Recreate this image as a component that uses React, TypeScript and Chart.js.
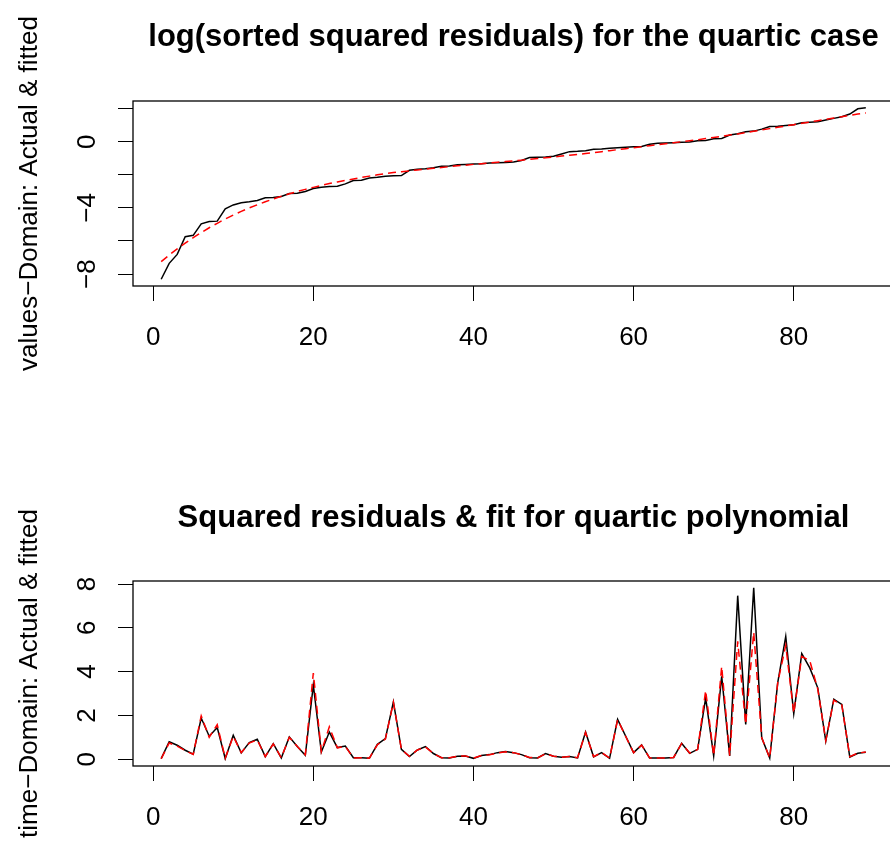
import React, { useEffect, useRef } from "react";
import { Chart, registerables } from "chart.js";

Chart.register(...registerables);

// ---------- data ----------
const idx: number[] = Array.from({ length: 89 }, (_, i) => i + 1);

const logActual: number[] = [
  -8.31, -7.35, -6.81, -5.74, -5.66, -4.96, -4.82, -4.80, -4.06, -3.82,
  -3.69, -3.63, -3.55, -3.39, -3.37, -3.31, -3.13, -3.11, -3.01, -2.83,
  -2.75, -2.71, -2.69, -2.55, -2.35, -2.33, -2.19, -2.15, -2.09, -2.06,
  -2.05, -1.73, -1.67, -1.63, -1.57, -1.49, -1.47, -1.39, -1.37, -1.35,
  -1.33, -1.29, -1.27, -1.25, -1.23, -1.14, -0.96, -0.94, -0.92, -0.88,
  -0.74, -0.60, -0.58, -0.54, -0.46, -0.44, -0.40, -0.36, -0.34, -0.31,
  -0.29, -0.16, -0.10, -0.08, -0.06, -0.04, -0.02, 0.06, 0.08, 0.18,
  0.20, 0.40, 0.48, 0.60, 0.64, 0.76, 0.92, 0.94, 0.98, 1.02,
  1.14, 1.18, 1.20, 1.31, 1.41, 1.51, 1.67, 1.99, 2.05,
];

const logFitted: number[] = [
  -7.25, -6.85, -6.48, -6.13, -5.80, -5.49, -5.20, -4.93, -4.67, -4.43,
  -4.21, -4.00, -3.81, -3.63, -3.46, -3.30, -3.15, -3.01, -2.88, -2.76,
  -2.64, -2.53, -2.43, -2.34, -2.25, -2.16, -2.08, -2.00, -1.93, -1.86,
  -1.81, -1.76, -1.71, -1.66, -1.61, -1.56, -1.51, -1.46, -1.42, -1.37,
  -1.33, -1.28, -1.24, -1.20, -1.16, -1.12, -1.07, -1.02, -0.97, -0.92,
  -0.87, -0.82, -0.77, -0.71, -0.66, -0.60, -0.54, -0.48, -0.42, -0.36,
  -0.30, -0.24, -0.18, -0.12, -0.06, 0.00, 0.06, 0.12, 0.19, 0.26,
  0.33, 0.40, 0.47, 0.55, 0.63, 0.71, 0.79, 0.87, 0.95, 1.03,
  1.11, 1.19, 1.27, 1.35, 1.43, 1.51, 1.59, 1.67, 1.74,
];

const sqActual: number[] = [
  0.03, 0.80, 0.64, 0.41, 0.23, 1.88, 1.05, 1.45, 0.03, 1.09,
  0.29, 0.76, 0.91, 0.12, 0.71, 0.06, 1.02, 0.58, 0.18, 3.39,
  0.33, 1.24, 0.53, 0.60, 0.07, 0.07, 0.04, 0.68, 0.94, 2.62,
  0.45, 0.12, 0.42, 0.58, 0.26, 0.07, 0.06, 0.14, 0.15, 0.04,
  0.17, 0.21, 0.30, 0.35, 0.30, 0.21, 0.07, 0.06, 0.26, 0.14,
  0.09, 0.12, 0.06, 1.24, 0.11, 0.30, 0.04, 1.82, 1.06, 0.30,
  0.65, 0.05, 0.05, 0.05, 0.08, 0.73, 0.27, 0.45, 2.80, 0.15,
  3.79, 0.15, 7.47, 1.59, 7.83, 0.98, 0.05, 3.50, 5.61, 2.08,
  4.82, 4.17, 3.26, 0.83, 2.74, 2.50, 0.10, 0.27, 0.32,
];

const sqFitted: number[] = [
  0.02, 0.74, 0.60, 0.40, 0.22, 1.98, 1.00, 1.58, 0.05, 1.05,
  0.30, 0.74, 0.88, 0.12, 0.70, 0.07, 1.00, 0.58, 0.20, 3.94,
  0.35, 1.48, 0.52, 0.58, 0.06, 0.07, 0.05, 0.66, 0.92, 2.60,
  0.45, 0.13, 0.42, 0.56, 0.26, 0.07, 0.07, 0.14, 0.15, 0.05,
  0.17, 0.20, 0.29, 0.34, 0.30, 0.21, 0.08, 0.06, 0.25, 0.14,
  0.09, 0.12, 0.07, 1.22, 0.12, 0.30, 0.05, 1.80, 1.05, 0.30,
  0.64, 0.06, 0.05, 0.06, 0.08, 0.72, 0.28, 0.44, 3.14, 0.16,
  4.24, 0.16, 5.38, 1.60, 5.80, 0.98, 0.06, 3.50, 5.20, 2.10,
  4.70, 4.50, 3.20, 0.85, 2.70, 2.48, 0.12, 0.28, 0.33,
];

const xTicks: number[] = [0, 20, 40, 60, 80];
const topYTicks: number[] = [-8, -6, -4, -2, 0, 2];
const topYLabels: string[] = ["\u22128", "", "\u22124", "", "0", ""];
const botYTicks: number[] = [0, 2, 4, 6, 8];
const botYLabels: string[] = ["0", "2", "4", "6", "8"];

const topTitle = "log(sorted squared residuals) for the quartic case";
const topYTitle = "values\u2212Domain: Actual & fitted";
const botTitle = "Squared residuals & fit for quartic polynomial";
const botYTitle = "time\u2212Domain: Actual & fitted";

// ---------- chart helpers ----------
const FONT = "'Liberation Sans', Arial, Helvetica, sans-serif";

const boxPlugin = {
  id: "rbox",
  afterDraw(chart: any) {
    const { ctx, chartArea: a } = chart;
    ctx.save();
    ctx.strokeStyle = "#000";
    ctx.lineWidth = 1.3;
    ctx.strokeRect(a.left, a.top, a.right - a.left, a.bottom - a.top);
    ctx.restore();
  },
};

interface Cfg {
  title: string;
  yTitle: string;
  actual: number[];
  fitted: number[];
  yMin: number;
  yMax: number;
  yTicks: number[];
  yLabels: string[];
  titlePadTop: number;
  titlePadBottom: number;
  xHeight: number;
  yTickPad: number;
}

function makeConfig(c: Cfg): any {
  const toPts = (arr: number[]) => idx.map((x, i) => ({ x, y: arr[i] }));
  return {
    type: "line",
    data: {
      datasets: [
        {
          label: "fitted",
          data: toPts(c.fitted),
          borderColor: "#FF0000",
          borderWidth: 1.5,
          borderDash: [8, 5],
          pointRadius: 0,
          tension: 0,
          fill: false,
          order: 0,
        },
        {
          label: "actual",
          data: toPts(c.actual),
          borderColor: "#000000",
          borderWidth: 1.5,
          pointRadius: 0,
          tension: 0,
          fill: false,
          order: 1,
        },
      ],
    },
    options: {
      responsive: false,
      animation: false,
      devicePixelRatio: 1,
      layout: { padding: { left: 0, right: 6, top: 0, bottom: 0 } },
      plugins: {
        legend: { display: false },
        tooltip: { enabled: false },
        title: {
          display: true,
          text: c.title,
          color: "#000",
          fullSize: false,
          font: { family: FONT, size: 31, weight: "bold", lineHeight: 1.2 },
          padding: { top: c.titlePadTop, bottom: c.titlePadBottom },
        },
      },
      scales: {
        x: {
          type: "linear",
          min: -2.52,
          max: 92.52,
          afterBuildTicks: (s: any) => {
            s.ticks = xTicks.map((v) => ({ value: v }));
          },
          afterFit: (s: any) => {
            s.height = c.xHeight;
          },
          ticks: {
            color: "#000",
            font: { family: FONT, size: 26 },
            padding: 21,
            maxRotation: 0,
            minRotation: 0,
            autoSkip: false,
            callback: (v: number) => String(v),
          },
          grid: {
            display: true,
            drawOnChartArea: false,
            drawTicks: true,
            tickLength: 15,
            color: "#000",
            lineWidth: 1,
          },
          border: { display: false },
        },
        y: {
          type: "linear",
          min: c.yMin,
          max: c.yMax,
          afterBuildTicks: (s: any) => {
            s.ticks = c.yTicks.map((v) => ({ value: v }));
          },
          afterFit: (s: any) => {
            s.width = 133;
          },
          ticks: {
            color: "#000",
            font: { family: FONT, size: 26 },
            padding: c.yTickPad,
            minRotation: 90,
            maxRotation: 90,
            crossAlign: "center",
            autoSkip: false,
            callback: (v: number) => {
              const k = c.yTicks.indexOf(v);
              return k >= 0 ? c.yLabels[k] : "";
            },
          },
          grid: {
            display: true,
            drawOnChartArea: false,
            drawTicks: true,
            tickLength: 15,
            color: "#000",
            lineWidth: 1,
          },
          border: { display: false },
          title: {
            display: true,
            text: c.yTitle,
            color: "#000",
            font: { family: FONT, size: 26, lineHeight: 1.2 },
            padding: { top: 14.4, bottom: 0 },
          },
        },
      },
    },
    plugins: [boxPlugin],
  };
}

function RChart({ cfg }: { cfg: Cfg }) {
  const ref = useRef<HTMLCanvasElement | null>(null);
  useEffect(() => {
    if (!ref.current) return;
    const chart = new Chart(ref.current, makeConfig(cfg));
    return () => chart.destroy();
  }, [cfg]);
  return (
    <canvas
      ref={ref}
      width={900}
      height={423}
      style={{ display: "block", width: 900, height: 423 }}
    />
  );
}

const topCfg: Cfg = {
  title: topTitle,
  yTitle: topYTitle,
  actual: logActual,
  fitted: logFitted,
  yMin: -8.72,
  yMax: 2.46,
  yTicks: topYTicks,
  yLabels: topYLabels,
  titlePadTop: 18.4,
  titlePadBottom: 45.4,
  xHeight: 137,
  yTickPad: 15,
};

const botCfg: Cfg = {
  title: botTitle,
  yTitle: botYTitle,
  actual: sqActual,
  fitted: sqFitted,
  yMin: -0.31,
  yMax: 8.14,
  yTicks: botYTicks,
  yLabels: botYLabels,
  titlePadTop: 76.4,
  titlePadBottom: 44.4,
  xHeight: 80,
  yTickPad: 23,
};

export default function App() {
  return (
    <div
      style={{
        position: "absolute",
        left: 0,
        top: 0,
        width: 890,
        height: 846,
        overflow: "hidden",
        background: "#fff",
      }}
    >
      <RChart cfg={topCfg} />
      <RChart cfg={botCfg} />
    </div>
  );
}
